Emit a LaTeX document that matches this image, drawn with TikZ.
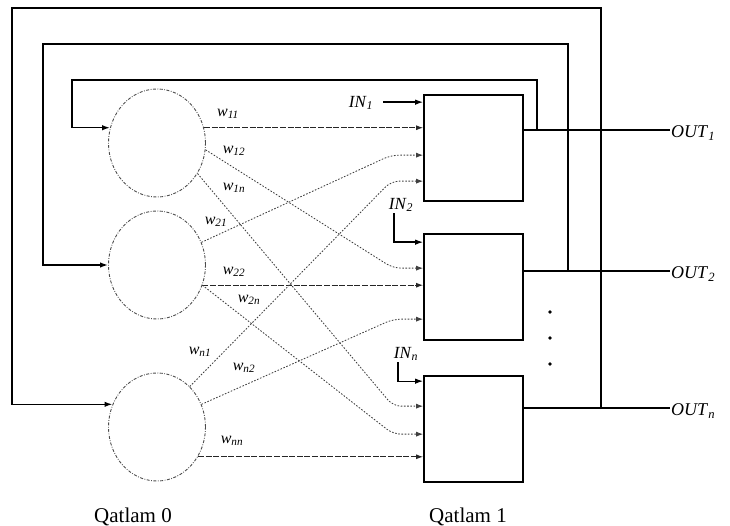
\documentclass[tikz,border=0pt]{standalone}
\usepackage{fontspec}
\setmainfont{Liberation Serif}
\usetikzlibrary{arrows.meta,calc,shapes.geometric}
\newcommand\mylab[3]{{\fontsize{#1}{#1}\selectfont\textit{#2}\textsubscript{\textit{#3}}}}
\begin{document}
\begin{tikzpicture}[x=1pt,y=-1pt,
  neuron/.style={ellipse,draw=black!70,line width=0.9pt,
    dash pattern=on 3pt off 1.5pt on 0.8pt off 1.5pt,
    minimum width=97pt,minimum height=108pt,inner sep=0pt},
  unit/.style={draw,line width=1.7pt,minimum width=99pt,minimum height=106pt,inner sep=0pt},
  fb/.style={line width=1.5pt,-{Latex[length=8pt,width=5.5pt]}},
  outl/.style={line width=1.5pt},
  inl/.style={line width=1.3pt,-{Latex[length=8pt,width=5.5pt]}},
  wdash/.style={line width=1.1pt,black!85,dash pattern=on 6pt off 1.6pt,-{Latex[length=7pt,width=5pt]}},
  wdot/.style={line width=0.85pt,black!75,dash pattern=on 1.6pt off 1.6pt,rounded corners=8pt,
    -{Latex[length=7pt,width=5pt]}},
  wlab/.style={inner sep=0pt},
  iolab/.style={inner sep=1pt},
  captext/.style={font=\fontsize{21}{21}\selectfont,anchor=base}]
\useasboundingbox (0,0) rectangle (730,526);

% neurons of layer 0
\node[neuron] (c1) at (157,143) {};
\node[neuron] (c2) at (157,265) {};
\node[neuron] (c3) at (157,427) {};

% units of layer 1
\node[unit] (b1) at (473.5,148) {};
\node[unit] (b2) at (473.5,287) {};
\node[unit] (b3) at (473.5,429) {};

% entry points on the units
\coordinate (in1)  at ($(b1.north west)+(0,8)$);
\coordinate (e21)  at ($(b1.north west)+(0,61)$);
\coordinate (en1)  at ($(b1.north west)+(0,87)$);
\coordinate (in2)  at ($(b2.north west)+(0,9)$);
\coordinate (e12)  at ($(b2.north west)+(0,35)$);
\coordinate (en2)  at ($(b2.north west)+(0,86)$);
\coordinate (inn)  at ($(b3.north west)+(0,6)$);
\coordinate (e1n)  at ($(b3.north west)+(0,31)$);
\coordinate (e2n)  at ($(b3.north west)+(0,59)$);

% output lines
\coordinate (o1s) at ($(b1.north east)+(0,36)$);
\coordinate (o2s) at ($(b2.north east)+(0,38)$);
\coordinate (o3s) at ($(b3.north east)+(0,33)$);
\node[iolab,anchor=west] (out1) at (670,133) {\mylab{18}{OUT}{1}};
\node[iolab,anchor=west] (out2) at (670,274) {\mylab{18}{OUT}{2}};
\node[iolab,anchor=west] (outn) at (670,411) {\mylab{18}{OUT}{n}};
\draw[outl] (o1s) -- (out1.west |- o1s);
\draw[outl] (o2s) -- (out2.west |- o2s);
\draw[outl] (o3s) -- (outn.west |- o3s);

% feedback loops
\coordinate (j1) at (537,131);
\coordinate (j2) at (568,272);
\coordinate (j3) at (601,409);
\draw[fb] (j1) |- (72,80) |- (c1.162);
\draw[fb] (j2) |- (43,44) |- (c2.west);
\draw[fb] (j3) |- (12,8) |- (c3.153);

% inputs
\node[iolab] (lin1) at (361,103) {\mylab{17}{IN}{1}};
\node[iolab] (lin2) at (401,205) {\mylab{17}{IN}{2}};
\node[iolab] (linn) at (406,354) {\mylab{17}{IN}{n}};
\draw[inl,shorten <=9pt] (lin1.east |- in1) -- (in1);
\draw[inl] ($(lin2.south)+(-7,0)$) |- (in2);
\draw[inl] ($(linn.south)+(-8,0)$) |- (inn);

% weights
\draw[wdash] (c1.18) -- (b1.west |- c1.18);
\draw[wdash] (c2.-24) -- (b2.west |- c2.-24);
\draw[wdash] (c3.-36) -- (b3.west |- c3.-36);

\draw[wdot] (c1.-8)  -- ($(e12)+(-30,0)$) -- (e12);
\draw[wdot] (c1.-37) -- ($(e1n)+(-30,0)$) -- (e1n);
\draw[wdot] (c2.27)  -- ($(e21)+(-32,0)$) -- (e21);
\draw[wdot] (c2.-24) -- ($(e2n)+(-30,0)$) -- (e2n);
\draw[wdot] (c3.51)  -- ($(en1)+(-32,0)$) -- (en1);
\draw[wdot] (c3.27)  -- ($(en2)+(-30,0)$) -- (en2);

\node[wlab] (w11) at (228,114) {\mylab{16}{w}{11}};
\node[wlab] (w12) at (234,151) {\mylab{16}{w}{12}};
\node[wlab] (w1n) at (234,188) {\mylab{16}{w}{1n}};
\node[wlab] (w21) at (216,222) {\mylab{16}{w}{21}};
\node[wlab] (w22) at (234,272) {\mylab{16}{w}{22}};
\node[wlab] (w2n) at (249,300) {\mylab{16}{w}{2n}};
\node[wlab] (wn1) at (200,352) {\mylab{16}{w}{n1}};
\node[wlab] (wn2) at (244,368) {\mylab{16}{w}{n2}};
\node[wlab] (wnn) at (232,441) {\mylab{16}{w}{nn}};

% dots
\fill (550,312) circle (1.8);
\fill (550,338) circle (1.8);
\fill (550,364) circle (1.8);

% captions
\node[captext] (q0) at (133,522) {Qatlam 0};
\node[captext] (q1) at (468,522) {Qatlam 1};
\end{tikzpicture}
\end{document}
